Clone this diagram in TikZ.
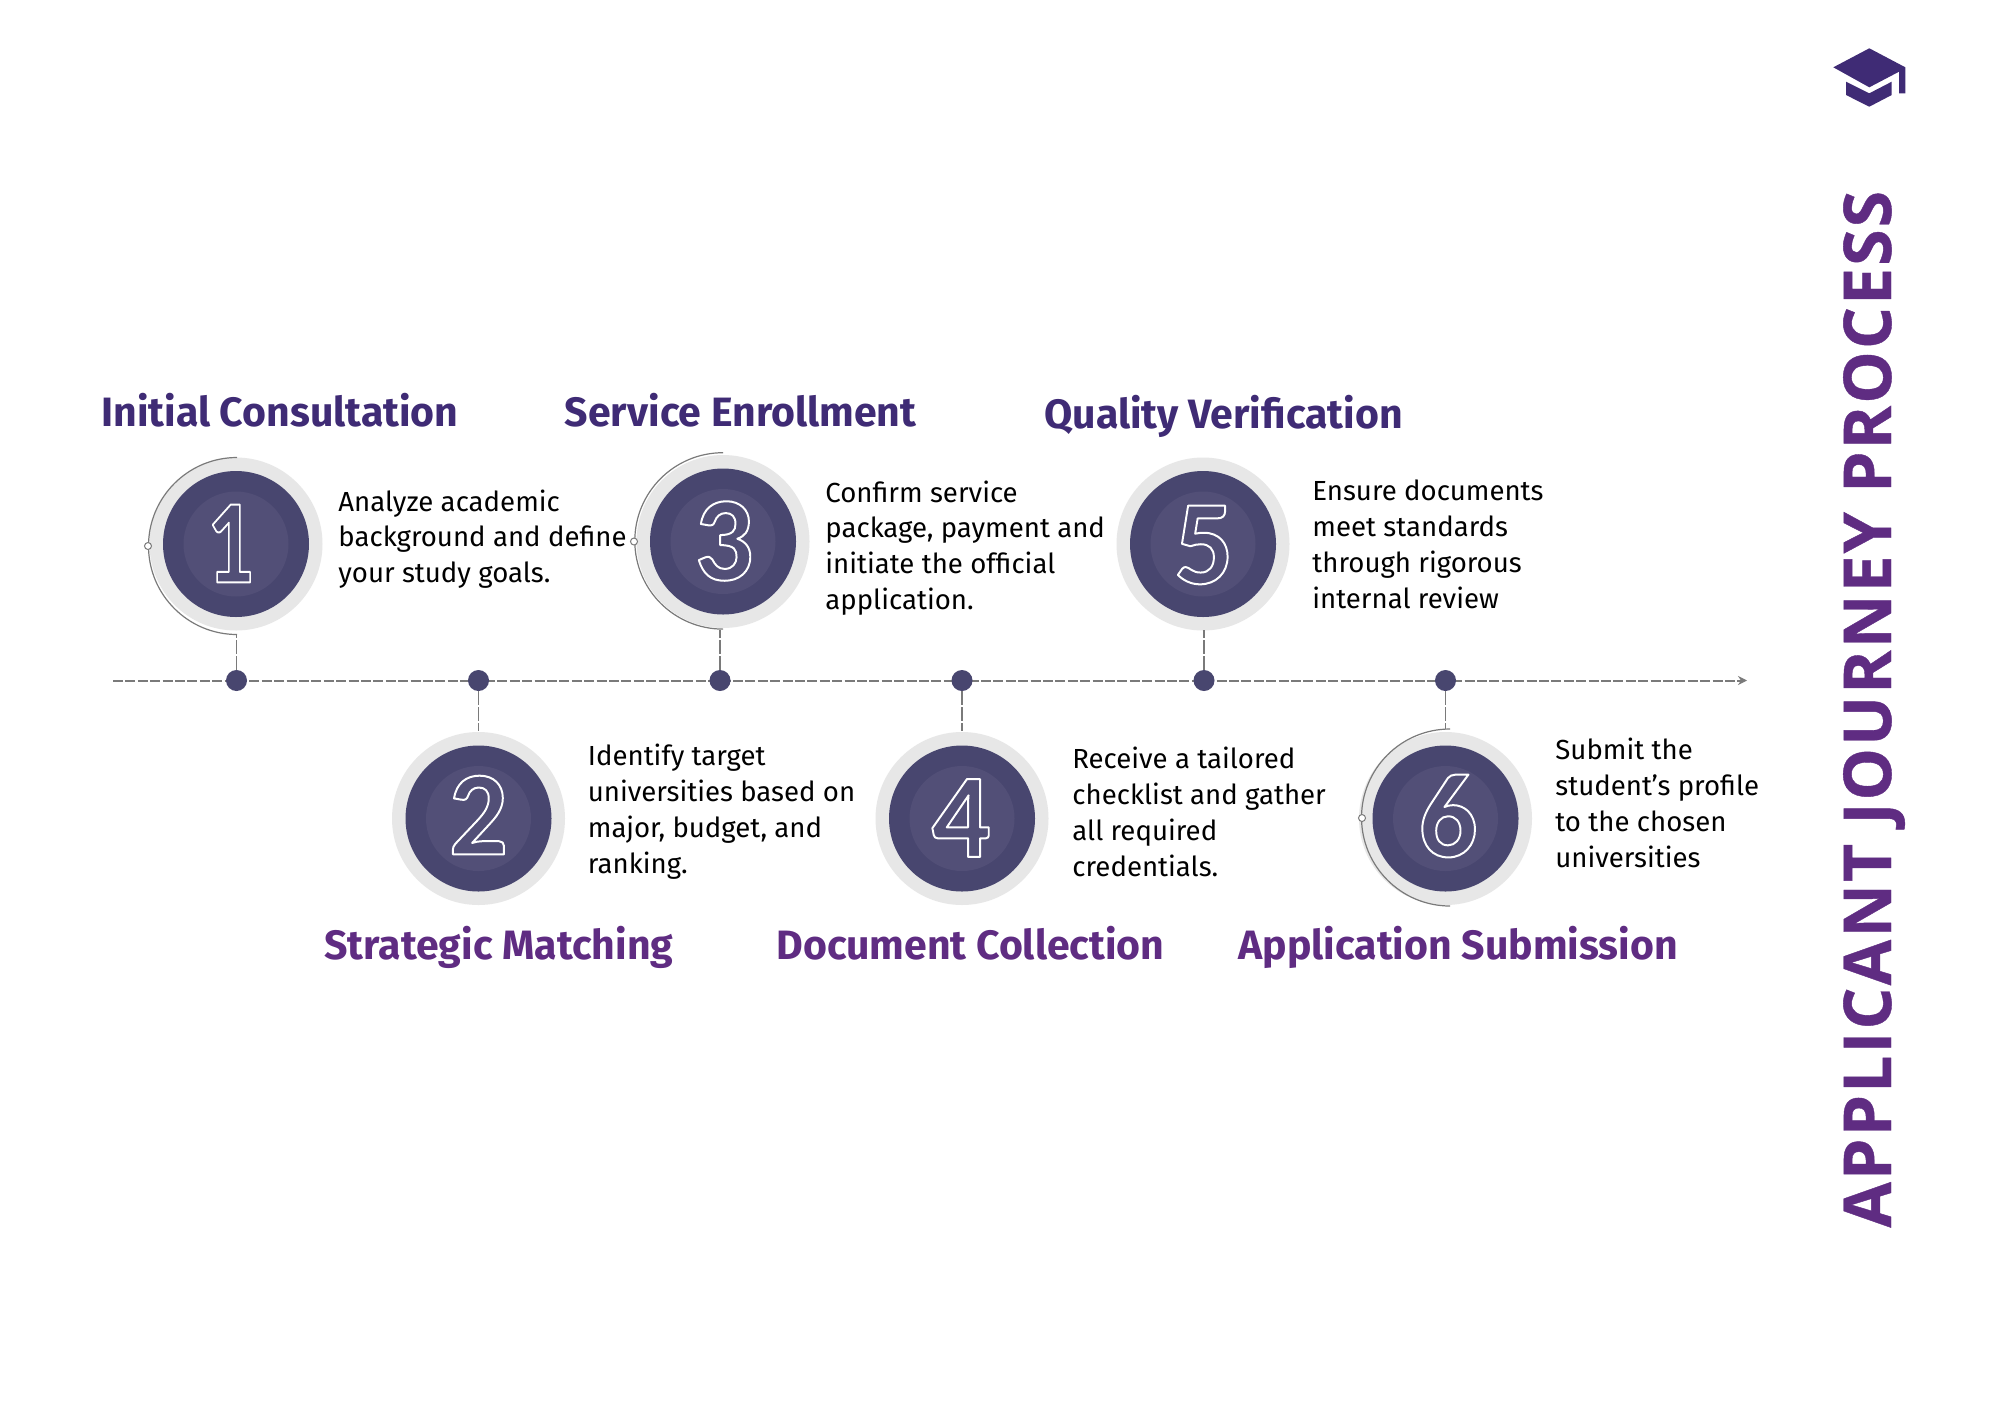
\documentclass[tikz,border=0pt]{standalone}
\usepackage{fontspec}
\usetikzlibrary{arrows.meta}
\setmainfont{Fira Sans}
\newfontfamily\titlefont[LetterSpace=3.2,FakeBold=0.6]{Open Sans}
\newfontfamily\digitfont{Carlito}
\definecolor{ringgray}{HTML}{E7E7E7}
\definecolor{darkdisc}{HTML}{48466F}
\definecolor{innerdisc}{HTML}{524F77}
\definecolor{headA}{HTML}{3F2B75}
\definecolor{headB}{HTML}{5F2C82}
\definecolor{linegray}{HTML}{7A7A7A}
\newcommand{\strokedigit}[1]{\special{pdf:code q 1 Tr 1 w 1 1 1 RG 1 j}#1\special{pdf:code Q}}
\tikzset{
  outerdisc/.style={circle,fill=ringgray,minimum size=86.5pt,inner sep=0pt},
  middisc/.style={circle,fill=darkdisc,minimum size=73pt,inner sep=0pt},
  coredisc/.style={circle,fill=innerdisc,minimum size=52.5pt,inner sep=0pt},
  stopdot/.style={circle,fill=darkdisc,minimum size=10.5pt,inner sep=0pt},
  handle/.style={circle,draw=linegray,fill=white,line width=0.5pt,minimum size=3.5pt,inner sep=0pt},
  digitnode/.style={inner sep=0pt,text=white,font=\digitfont\bfseries\fontsize{60}{60}\selectfont,xscale=0.97},
  heading/.style={anchor=base west,inner sep=0pt,font=\bfseries\fontsize{20.5}{20.5}\selectfont},
  bodytext/.style={anchor=base west,inner sep=0pt,text=black,font=\fontsize{13.8}{13.8}\selectfont},
  timeline/.style={draw=linegray,line width=1pt,dash pattern=on 5pt off 1.2pt},
  stem/.style={draw=linegray,line width=0.8pt,dash pattern=on 7pt off 1pt},
  ringarc/.style={draw=linegray,line width=0.6pt},
}
\begin{document}
\begin{tikzpicture}[x=0.5pt,y=-0.5pt]
\useasboundingbox (0,0) rectangle (2000,1414);
\fill[white] (0,0) rectangle (2000,1414);
% timeline
\coordinate (tstart) at (113,680.5);
\coordinate (tend) at (1747,680.5);
\draw[timeline,-{Stealth[length=4.5pt,width=4.5pt]}] (tstart) -- (tend);
% discs
\foreach \n/\cx/\cy in {1/236/544,2/478.5/818.5,3/723/541.5,4/962/818.5,5/1203/544,6/1445.5/818.5}{
  \node[outerdisc] (outer\n) at (\cx,\cy) {};
  \node[middisc] at (\cx,\cy) {};
  \node[coredisc] at (\cx,\cy) {};
}
% arcs
\draw[ringarc] (237,457.5) arc (270:90:88.5);
\draw[ringarc] (723,452.7) arc (270:90:88.2);
\draw[ringarc] (1450,729) arc (270:90:88.5);
\node[handle] (h1) at (148,546) {};
\node[handle] (h3) at (634,541.5) {};
\node[handle] (h6) at (1362,818) {};
% dots and stems
\foreach \n/\dx in {1/236.5,2/478.5,3/720,4/962,5/1204,6/1445.5}{
  \node[stopdot] (d\n) at (\dx,680.5) {};
}
\coordinate (s1) at (236.5,635);
\coordinate (s2) at (478.5,731);
\coordinate (s3) at (720,630);
\coordinate (s4) at (962,731);
\coordinate (s5) at (1204,630);
\coordinate (s6) at (1445.5,729);
\foreach \n in {1,...,6}{\draw[stem] (d\n) -- (s\n);}
% digits
\node[digitnode,xscale=0.8] (n1) at (230,543.5) {\strokedigit{1}};
\node[digitnode] (n2) at (478.5,815) {\strokedigit{2}};
\node[digitnode] (n3) at (724,541) {\strokedigit{3}};
\node[digitnode] (n4) at (961,818) {\strokedigit{4}};
\node[digitnode] (n5) at (1204,545) {\strokedigit{5}};
\node[digitnode] (n6) at (1448,816) {\strokedigit{6}};
% headings
\node[heading,text=headA] (h-a) at (101,426.5) {Initial Consultation};
\node[heading,text=headA] (h-c) at (564.5,426.5) {Service Enrollment};
\node[heading,text=headA] (h-e) at (1044,428) {Quality Verification};
\node[heading,text=headB] (h-b) at (324,959.5) {Strategic Matching};
\node[heading,text=headB] (h-d) at (776,959.5) {Document Collection};
\node[heading,text=headB] (h-f) at (1238,959.5) {Application Submission};
% body
\node[bodytext] (t1a) at (338,511.5) {Analyze academic};
\node[bodytext] (t1b) at (338,546.5) {background and define};
\node[bodytext] (t1c) at (338,582) {your study goals.};
\node[bodytext] (t2a) at (587.5,765.5) {Identify target};
\node[bodytext] (t2b) at (587.5,801.5) {universities based on};
\node[bodytext] (t2c) at (587.5,837) {major, budget, and};
\node[bodytext] (t2d) at (587.5,873) {ranking.};
\node[bodytext] (t3a) at (825,502) {Confirm service};
\node[bodytext] (t3b) at (825,537.5) {package, payment and};
\node[bodytext] (t3c) at (825,573.5) {initiate the official};
\node[bodytext] (t3d) at (825,609) {application.};
\node[bodytext] (t4a) at (1072,768) {Receive a tailored};
\node[bodytext] (t4b) at (1072,804) {checklist and gather};
\node[bodytext] (t4c) at (1072,840) {all required};
\node[bodytext] (t4d) at (1072,876) {credentials.};
\node[bodytext] (t5a) at (1312,500.5) {Ensure documents};
\node[bodytext] (t5b) at (1312,536) {meet standards};
\node[bodytext] (t5c) at (1312,572) {through rigorous};
\node[bodytext] (t5d) at (1312,608) {internal review};
\node[bodytext] (t6a) at (1555,759.5) {Submit the};
\node[bodytext] (t6b) at (1555,795) {student’s profile};
\node[bodytext] (t6c) at (1555,831) {to the chosen};
\node[bodytext] (t6d) at (1555,867) {universities};
% title
\node[anchor=base west,inner sep=0pt,rotate=90,text=headB,font=\titlefont\bfseries\fontsize{33}{33}\selectfont] (title) at (1891,1228) {APPLICANT JOURNEY PROCESS};
% cap
\fill[headA] (1833.3,67.3) -- (1869.3,48.3) -- (1905.3,67.3) -- (1905.3,93.3) -- (1899,93.3) -- (1899,71.7) -- (1869.3,87.3) -- cycle;
\fill[headA] (1846,81.7) -- (1869.3,93.3) -- (1891.7,81.7) -- (1891.7,95) -- (1869.3,106.7) -- (1846,95) -- cycle;
\end{tikzpicture}
\end{document}
